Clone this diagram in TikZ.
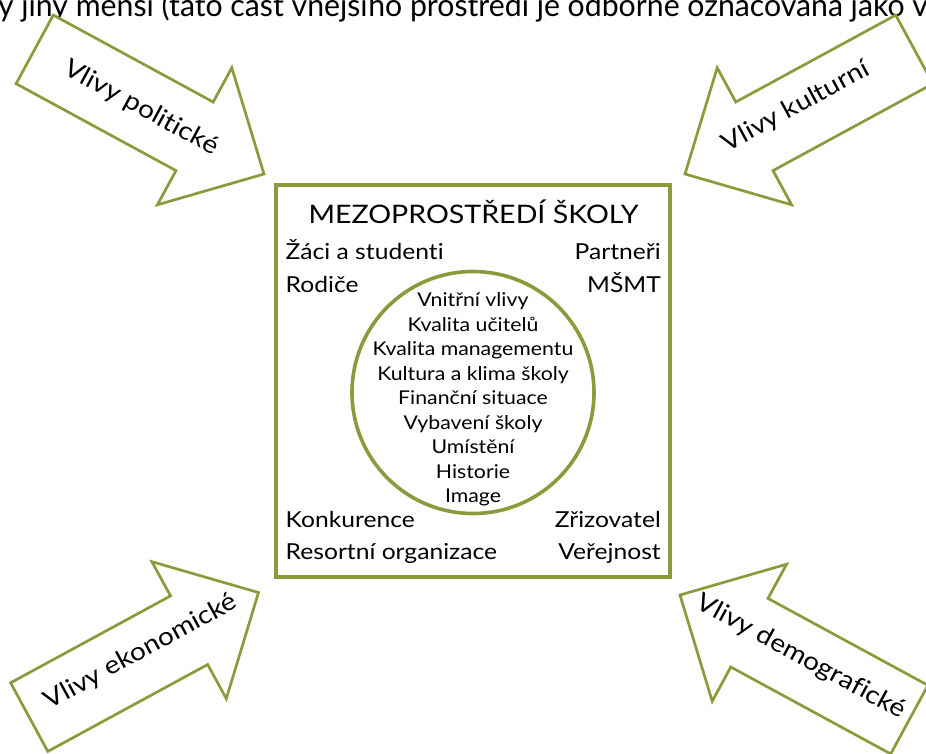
\documentclass[tikz,border=0pt]{standalone}
\usepackage{fontspec}
\setmainfont{Lato}[FakeStretch=1.12,Ligatures={NoCommon,NoRare}]
\definecolor{olive}{RGB}{140,154,60}
\begin{document}
\begin{tikzpicture}[x=1pt,y=-1pt,
  arrowshape/.style={draw=olive,line width=2.7pt,fill=white,line join=miter},
  arrowtext/.style={font=\fontsize{25}{29}\selectfont,inner sep=0pt},
  outerlab/.style={font=\fontsize{22}{26}\selectfont,inner sep=0pt},
  innerlab/.style={font=\fontsize{19}{23}\selectfont,inner sep=0pt,anchor=base},
]
\useasboundingbox (0,0) rectangle (926,753);
\clip (0,0) rectangle (926,753);
\fill[white] (0,0) rectangle (926,753);

% cut-off text line at the top
\node[font=\fontsize{27}{32}\selectfont,inner sep=0pt,anchor=base,yscale=1.15,transform shape] (toptext) at (463,16.5)
  {y jiný menší (tato část vnějšího prostředí je odborně označována jako v};

% arrows
\draw[arrowshape] (264,174) -- (231.8,67.8) -- (213.2,102) -- (53.3,15.1) -- (16.1,83.7) -- (176,170.6) -- (157.4,204.8) -- cycle;
\draw[arrowshape] (685,174) -- (717.2,67.8) -- (735.8,102) -- (895.7,15.1) -- (932.9,83.7) -- (773,170.6) -- (791.6,204.8) -- cycle;
\draw[arrowshape] (258.5,592.5) -- (226.3,698.7) -- (207.7,664.5) -- (47.8,751.4) -- (10.6,682.8) -- (170.5,595.9) -- (151.9,561.7) -- cycle;
\draw[arrowshape] (680,595) -- (712.2,701.2) -- (730.8,667) -- (890.7,753.9) -- (927.9,685.3) -- (768,598.4) -- (786.6,564.2) -- cycle;

\node[arrowtext,rotate=-28.5] (polit) at (141,108) {Vlivy politické};
\node[arrowtext,rotate=28.5] (kult) at (796,107) {Vlivy kulturní};
\node[arrowtext,rotate=28.5] (ekon) at (141,652) {Vlivy ekonomické};
\node[arrowtext,rotate=-28.5] (demo) at (801,657) {Vlivy demografické};

% box and circle
\draw[olive,line width=3.2pt] (276,185) rectangle (670,577);
\draw[olive,line width=3.6pt] (473,392.5) circle (121);

\node[font=\fontsize{25.5}{30}\selectfont,inner sep=0pt,anchor=base] (title) at (473.5,223.3) {MEZOPROSTŘEDÍ ŠKOLY};
\node[outerlab,anchor=base west] (zaci) at (285.5,259.3) {Žáci a studenti};
\node[outerlab,anchor=base west] (rodice) at (285.5,292) {Rodiče};
\node[outerlab,anchor=base west] (konk) at (285.5,527) {Konkurence};
\node[outerlab,anchor=base west] (resort) at (285.5,559) {Resortní organizace};
\node[outerlab,anchor=base east] (partneri) at (661,259.3) {Partneři};
\node[outerlab,anchor=base east] (msmt) at (661,292) {MŠMT};
\node[outerlab,anchor=base east] (zriz) at (661,527) {Zřizovatel};
\node[outerlab,anchor=base east] (verej) at (661,559) {Veřejnost};

\node[innerlab] (i1) at (473,306.5) {Vnitřní vlivy};
\node[innerlab] (i2) at (473,331) {Kvalita učitelů};
\node[innerlab] (i3) at (473,355.5) {Kvalita managementu};
\node[innerlab] (i4) at (473,380) {Kultura a klima školy};
\node[innerlab] (i5) at (473,404.5) {Finanční situace};
\node[innerlab] (i6) at (473,429) {Vybavení školy};
\node[innerlab] (i7) at (473,453.5) {Umístění};
\node[innerlab] (i8) at (473,478) {Historie};
\node[innerlab] (i9) at (473,502.5) {Image};
\end{tikzpicture}
\end{document}
